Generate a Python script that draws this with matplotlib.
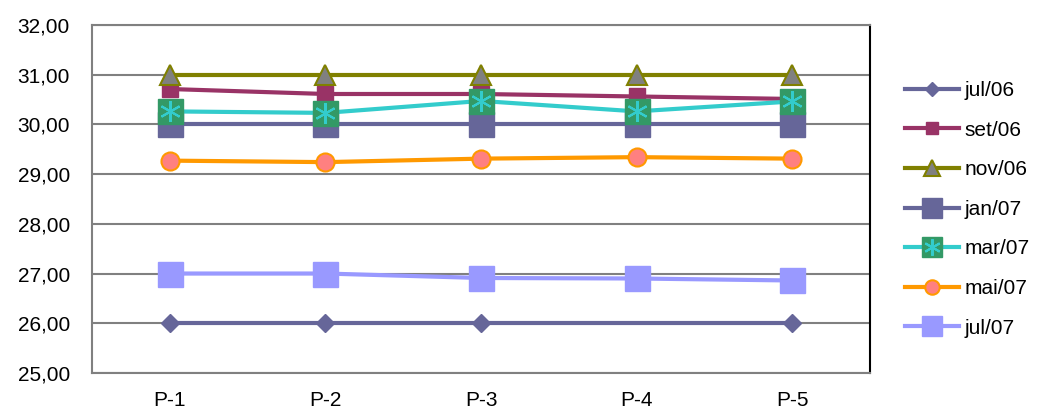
import matplotlib
matplotlib.use("Agg")
import matplotlib.pyplot as plt
import numpy as np

plt.rcParams['font.family'] = ['Liberation Sans', 'DejaVu Sans']

points = ['P-1', 'P-2', 'P-3', 'P-4', 'P-5']

jul06 = [26.00, 26.00, 26.00, 26.00, 26.00]
set06 = [30.71, 30.61, 30.61, 30.56, 30.51]
nov06 = [31.00, 31.00, 31.00, 31.00, 31.00]
jan07 = [30.00, 30.00, 30.00, 30.00, 30.00]
mar07 = [30.26, 30.23, 30.47, 30.26, 30.46]
mai07 = [29.27, 29.24, 29.31, 29.34, 29.31]
jul07 = [27.00, 27.00, 26.91, 26.90, 26.86]

x = np.arange(len(points))
fs = 15

fig = plt.figure(figsize=(10.4, 4.11), dpi=100)
ax = fig.add_axes([0.0885, 0.0925, 0.748, 0.847])

# series in the same order as the legend
l1, = ax.plot(x, jul06, color='#666699', lw=3, marker='D', ms=9,
              mfc='#666699', mec='#666699', markevery=[0, 1, 2, 4])
l2, = ax.plot(x, set06, color='#993366', lw=3, marker='s', ms=11,
              mfc='#993366', mec='#993366')
l3, = ax.plot(x, nov06, color='#808000', lw=3, marker='^', ms=14,
              mfc='#808080', mec='#808000', mew=1.5)
l4, = ax.plot(x, jan07, color='#666699', lw=3, marker='s', ms=18,
              mfc='#666699', mec='#666699')
l5, = ax.plot(x, mar07, color='#33CCCC', lw=3, marker='s', ms=18,
              mfc='#339966', mec='#339966')
l5b, = ax.plot(x, mar07, ls='none', marker=(6, 2, 0), ms=15, mec='#33CCCC', mew=1.5)
l6, = ax.plot(x, mai07, color='#FF9900', lw=3, marker='o', ms=13,
              mfc='#FF8080', mec='#FF9900', mew=1.5)
l7, = ax.plot(x, jul07, color='#9999FF', lw=3, marker='s', ms=18,
              mfc='#9999FF', mec='#9999FF')

ax.set_xlim(-0.5, 4.5)
ax.set_ylim(25, 32)
ax.set_xticks(x)
ax.set_xticklabels(points, fontsize=fs)
yt = np.arange(25, 33)
ax.set_yticks(yt)
ax.set_yticklabels(['%d,00' % v for v in yt], fontsize=fs)
ax.tick_params(axis='x', length=0, pad=13)
ax.tick_params(axis='y', length=0, pad=16)
ax.grid(axis='y', color='#808080', lw=1.5)
ax.set_axisbelow(True)
for s in ['left', 'bottom', 'top']:
    ax.spines[s].set_color('#808080')
    ax.spines[s].set_linewidth(1.5)
ax.spines['right'].set_color('black')
ax.spines['right'].set_linewidth(1.5)

handles = [l1, l2, l3, l4, (l5, l5b), l6, l7]
labels = ['jul/06', 'set/06', 'nov/06', 'jan/07', 'mar/07', 'mai/07', 'jul/07']
leg = fig.legend(handles, labels, loc='upper left', bbox_to_anchor=(0.870, 0.803),
                 frameon=False, fontsize=fs, handlelength=2.6, markerscale=0.8,
                 labelspacing=0.99, handletextpad=0.25, borderpad=0, borderaxespad=0)

fig.savefig('out.png', dpi=100)
